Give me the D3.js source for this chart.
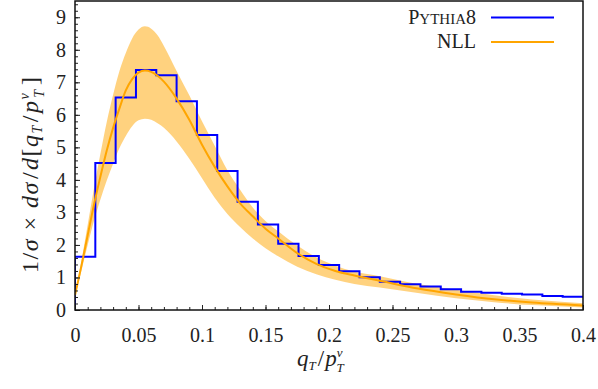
<!DOCTYPE html>
<html>
<head>
<meta charset="utf-8">
<script src="https://cdn.jsdelivr.net/npm/d3@7"></script>
<style>
  html, body { margin: 0; padding: 0; background: #fff; }
  svg { display: block; font-family: "Liberation Serif", serif; }
</style>
</head>
<body>
<div id="chart"></div>
<script>
// Pythia8 histogram: lower bin edges and heights
const binLo = [0, 0.016, 0.032, 0.048, 0.064, 0.08, 0.096, 0.112, 0.128, 0.144,
    0.16, 0.176, 0.192, 0.208, 0.224, 0.24, 0.256, 0.272, 0.288, 0.304,
    0.32, 0.336, 0.352, 0.368, 0.384];
const binWidth = 0.016;
const pythia = [1.64, 4.52, 6.53, 7.38, 7.22, 6.42, 5.38, 4.27, 3.33, 2.63,
    2.04, 1.66, 1.38, 1.19, 1.01, 0.87, 0.79, 0.72, 0.64, 0.56,
    0.53, 0.50, 0.48, 0.43, 0.41];

// NLL prediction with uncertainty band
const nllX = [0, 0.005, 0.01, 0.015, 0.02, 0.025, 0.03, 0.035, 0.04, 0.045,
    0.05, 0.055, 0.06, 0.065, 0.07, 0.08, 0.09, 0.10, 0.11, 0.12,
    0.13, 0.14, 0.15, 0.16, 0.175, 0.19, 0.205, 0.22, 0.24, 0.27,
    0.30, 0.33, 0.36, 0.40];
const nllCentral = [0.45, 1.35, 2.30, 3.25, 4.10, 4.90, 5.60, 6.20, 6.75, 7.10,
    7.30, 7.36, 7.32, 7.20, 7.02, 6.50, 5.85, 5.08, 4.40, 3.80,
    3.28, 2.88, 2.50, 2.20, 1.75, 1.42, 1.20, 1.06, 0.90, 0.66,
    0.48, 0.33, 0.23, 0.14];
const nllUpper = [0.48, 1.50, 2.62, 3.75, 4.80, 5.78, 6.62, 7.35, 7.90, 8.35,
    8.62, 8.72, 8.65, 8.45, 8.12, 7.35, 6.60, 5.80, 5.05, 4.30,
    3.70, 3.15, 2.74, 2.42, 1.98, 1.62, 1.36, 1.18, 1.04, 0.80,
    0.62, 0.45, 0.32, 0.21];
const nllLower = [0.42, 1.20, 2.00, 2.75, 3.40, 3.98, 4.50, 4.98, 5.35, 5.65,
    5.83, 5.88, 5.85, 5.74, 5.60, 5.18, 4.65, 4.05, 3.45, 2.95,
    2.55, 2.20, 1.90, 1.65, 1.33, 1.10, 0.93, 0.80, 0.69, 0.52,
    0.36, 0.24, 0.15, 0.08];

const xMajor = [0, 0.05, 0.1, 0.15, 0.2, 0.25, 0.3, 0.35, 0.4];
const yMajor = [0, 1, 2, 3, 4, 5, 6, 7, 8, 9];

const width = 598, height = 389;
const x = d3.scaleLinear().domain([0, 0.4]).range([75, 583]);
const y = d3.scaleLinear().domain([0, 9.5]).range([310, 1]);

const svg = d3.select("#chart").append("svg")
    .attr("width", width)
    .attr("height", height);

svg.append("defs").append("clipPath").attr("id", "plot")
    .append("rect")
    .attr("x", x(0)).attr("y", y(9.5))
    .attr("width", x(0.4) - x(0)).attr("height", y(0) - y(9.5));

const plot = svg.append("g").attr("clip-path", "url(#plot)");

// uncertainty band
const bandData = nllX.map((d, i) => ({ x: d, lo: nllLower[i], hi: nllUpper[i] }));
plot.append("path")
    .datum(bandData)
    .attr("fill", "#ffa500")
    .attr("fill-opacity", 0.5)
    .attr("d", d3.area()
        .x(d => x(d.x))
        .y0(d => y(d.lo))
        .y1(d => y(d.hi))
        .curve(d3.curveMonotoneX));

// histogram as a step line
const steps = [[0, 0]];
pythia.forEach((v, i) => {
    steps.push([binLo[i], v]);
    steps.push([binLo[i] + binWidth, v]);
});
plot.append("path")
    .datum(steps)
    .attr("fill", "none")
    .attr("stroke", "#0000ff")
    .attr("stroke-width", 2)
    .attr("d", d3.line().x(d => x(d[0])).y(d => y(d[1])));

// central NLL curve
plot.append("path")
    .datum(nllX.map((d, i) => [d, nllCentral[i]]))
    .attr("fill", "none")
    .attr("stroke", "#ffa500")
    .attr("stroke-width", 2)
    .attr("d", d3.line().x(d => x(d[0])).y(d => y(d[1])).curve(d3.curveMonotoneX));

// axes: minor ticks, then major ticks with labels
const xAxisG = svg.append("g").attr("transform", `translate(0,${y(0)})`);
xAxisG.append("g")
    .call(d3.axisBottom(x).ticks(40).tickSizeInner(-3).tickSizeOuter(0).tickFormat(""));
xAxisG.append("g")
    .call(d3.axisBottom(x).tickValues(xMajor).tickSizeInner(-5).tickSizeOuter(0)
        .tickFormat(d3.format("~g")));

const yAxisG = svg.append("g").attr("transform", `translate(${x(0)},0)`);
yAxisG.append("g")
    .call(d3.axisLeft(y).ticks(47).tickSizeInner(-3).tickSizeOuter(0).tickFormat(""));
yAxisG.append("g")
    .call(d3.axisLeft(y).tickValues(yMajor).tickSizeInner(-5).tickSizeOuter(0).tickPadding(9));

svg.selectAll(".domain").remove();
svg.selectAll(".tick line").attr("stroke", "#222");
svg.selectAll(".tick text")
    .attr("font-family", "Liberation Serif, serif")
    .attr("font-size", 20)
    .attr("fill", "#222");
xAxisG.selectAll(".tick text").attr("y", 32).attr("dy", 0);

// frame
svg.append("rect")
    .attr("x", x(0)).attr("y", y(9.5))
    .attr("width", x(0.4) - x(0)).attr("height", y(0) - y(9.5))
    .attr("fill", "none")
    .attr("stroke", "#111")
    .attr("stroke-width", 1.5);

// helper for q_T / p_T^nu, with the sub and sup stacked
function addRatio(t, size) {
    const s = Math.round(size * 0.58);
    t.append("tspan").attr("font-style", "italic").text("q");
    t.append("tspan").attr("font-style", "italic").attr("font-size", s).attr("dy", 4).text("T");
    t.append("tspan").attr("dy", -4).attr("dx", 2).text("/");
    t.append("tspan").attr("font-style", "italic").attr("dx", 1).text("p");
    t.append("tspan").attr("font-style", "italic").attr("font-size", s).attr("dy", -9).attr("dx", 0).text("ν");
    t.append("tspan").attr("font-style", "italic").attr("font-size", s).attr("dy", 15).attr("dx", -6).text("T");
    t.append("tspan").attr("dy", -6).text("\u200a");
}

// axis titles
const xt = svg.append("text")
    .attr("x", 297)
    .attr("y", 366)
    .attr("font-size", 23)
    .attr("fill", "#222");
addRatio(xt, 23);

const yt = svg.append("text")
    .attr("transform", "translate(38,273) rotate(-90)")
    .attr("font-size", 24)
    .attr("letter-spacing", 1.5)
    .attr("fill", "#222");
yt.append("tspan").text("1/");
yt.append("tspan").attr("font-style", "italic").text("σ");
yt.append("tspan").text(" × ");
yt.append("tspan").attr("font-style", "italic").text("dσ");
yt.append("tspan").attr("dx", 2).text("/");
yt.append("tspan").attr("font-style", "italic").attr("dx", 1).text("d");
yt.append("tspan").text("[");
addRatio(yt, 24);
yt.append("tspan").text("]");

// legend
const legend = svg.append("g").attr("font-size", 20).attr("fill", "#222");
const l1 = legend.append("text").attr("x", 476).attr("y", 24).attr("text-anchor", "end");
l1.append("tspan").text("P");
l1.append("tspan").attr("font-size", 15).text("YTHIA");
l1.append("tspan").text("8");
legend.append("text").attr("x", 476).attr("y", 48).attr("text-anchor", "end").text("NLL");
legend.append("line").attr("x1", 491).attr("x2", 554).attr("y1", 17.5).attr("y2", 17.5)
    .attr("stroke", "#0000ff").attr("stroke-width", 2);
legend.append("line").attr("x1", 491).attr("x2", 554).attr("y1", 42).attr("y2", 42)
    .attr("stroke", "#ffa500").attr("stroke-width", 2);
</script>
</body>
</html>
